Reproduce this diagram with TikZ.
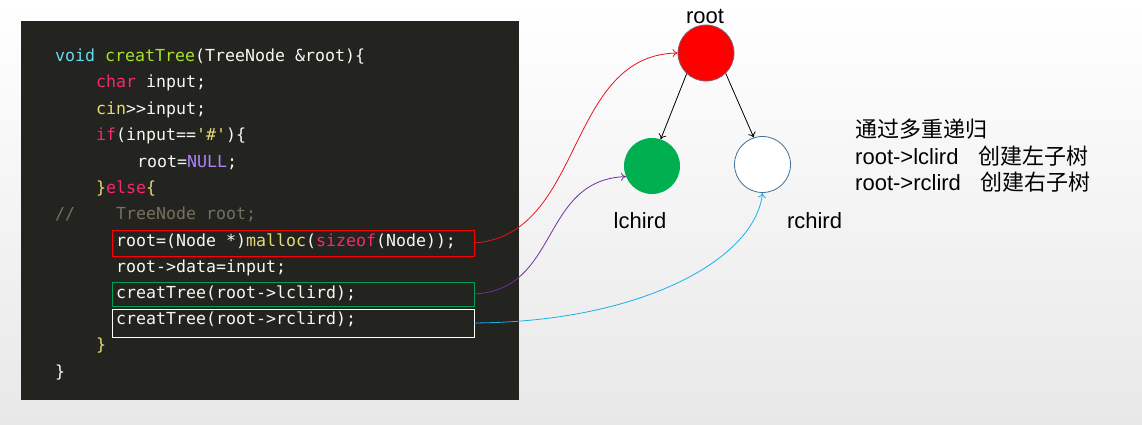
\documentclass[tikz,border=0pt]{standalone}
\usepackage{fontspec}
\setmainfont{Liberation Sans}
\setmonofont{DejaVu Sans Mono}
\newfontfamily\cjk{Noto Sans CJK SC}
\usetikzlibrary{arrows.meta}
\definecolor{bgbot}{RGB}{232,232,232}
\definecolor{panel}{RGB}{35,35,31}
\definecolor{mfg}{HTML}{F8F8F2}
\definecolor{mblue}{HTML}{66D9EF}
\definecolor{mgreen}{HTML}{A6E22E}
\definecolor{mpink}{HTML}{F92672}
\definecolor{myellow}{HTML}{E6DB74}
\definecolor{mpurple}{HTML}{AE81FF}
\definecolor{mcomment}{HTML}{75715E}
\definecolor{boxgreen}{HTML}{00A050}
\definecolor{curvered}{HTML}{E8141E}
\definecolor{curvepurple}{HTML}{7030A0}
\definecolor{curvecyan}{HTML}{1AB0E8}
\definecolor{leafgreen}{HTML}{00B050}
\definecolor{rootborder}{HTML}{7F6070}
\definecolor{rborder}{HTML}{41719C}
\newcommand\ck[2]{\textcolor{#1}{#2}}
\begin{document}
\begin{tikzpicture}[x=1pt,y=-1pt,
  codeline/.style={anchor=base west,inner sep=0pt,text=mfg,font=\ttfamily\fontsize{16.6}{20}\selectfont},
  codebox/.style={draw=#1,line width=0.9pt,minimum width=362pt,minimum height=26pt,inner sep=0pt,anchor=north west},
  treenode/.style={circle,minimum size=56pt,inner sep=0pt},
  lbl/.style={anchor=base,inner sep=0pt,font=\fontsize{22}{26}\selectfont},
  note/.style={anchor=base west,inner sep=0pt,font=\fontsize{22}{26}\selectfont},
  link/.style={line width=0.8pt,-{To[length=5pt,width=8pt]}}
]
\useasboundingbox (0,0) rectangle (1142,424);
\shade[top color=white,bottom color=bgbot] (0,0) rectangle (1142,424);
\fill[panel] (21,21) rectangle (519,400);

% code
\node[codeline] (l1) at (55,61) {\ck{mblue}{void} \ck{mgreen}{creatTree}(TreeNode \&root)\{};
\node[codeline] (l2) at (96,87.5) {\ck{mpink}{char} input;};
\node[codeline] (l3) at (96,114) {\ck{myellow}{cin}>>input;};
\node[codeline] (l4) at (96,140.5) {\ck{mpink}{if}(input==\ck{myellow}{'\#'})\{};
\node[codeline] (l5) at (137,167) {root=\ck{mpurple}{NULL};};
\node[codeline] (l6) at (96,193) {\ck{myellow}{\}}\ck{mpink}{else}\ck{myellow}{\{}};
\node[codeline,text=mcomment] (l7a) at (55,219) {//};
\node[codeline,text=mcomment] (l7b) at (116,219) {TreeNode root;};
\node[codeline] (l8) at (116,246) {root=(Node *)\ck{myellow}{malloc}(\ck{mpink}{sizeof}(Node));};
\node[codeline] (l9) at (116,272) {root->data=input;};
\node[codeline] (l10) at (116,298) {creatTree(root->lclird);};
\node[codeline] (l11) at (116,324) {creatTree(root->rclird);};
\node[codeline,text=myellow] (l12) at (96,350.5) {\}};
\node[codeline] (l13) at (55,377) {\}};

% boxes
\node[codebox=red] (rbox) at (111.5,229.5) {};
\node[codebox=boxgreen,minimum height=24pt] (gbox) at (111.5,281.5) {};
\node[codebox=white,minimum height=28pt] (wbox) at (111.5,308.5) {};

% tree
\node[treenode,fill=red,draw=rootborder,line width=0.8pt] (root) at (706,53) {};
\node[treenode,fill=leafgreen] (lchild) at (652,166) {};
\node[treenode,fill=white,draw=rborder,line width=0.8pt] (rchild) at (762.5,164.5) {};
\node[lbl] (rootlbl) at (705,23) {root};
\node[lbl] (llbl) at (640,228) {lchird};
\node[lbl] (rlbl) at (814.5,228) {rchird};

\draw[link,black] (root.227) -- (lchild.72);
\draw[link,black] (root.314) -- (rchild.108);

% curves
\draw[link,curvered] (rbox.east) .. controls (585,235) and (565,55) .. (root.west);
\draw[link,curvepurple] (gbox.east) .. controls (560,290) and (540,180) .. (lchild.202);
\draw[link,curvecyan] (wbox.east) .. controls (640,322) and (755,260) .. (rchild.270);

% notes
\node[note] (n1) at (855,137) {\cjk 通过多重递归};
\node[note] (n2) at (855,164) {root->lclird\hspace{20pt}{\cjk 创建左子树}};
\node[note] (n3) at (855,190.5) {root->rclird\hspace{20pt}{\cjk 创建右子树}};
\end{tikzpicture}
\end{document}
